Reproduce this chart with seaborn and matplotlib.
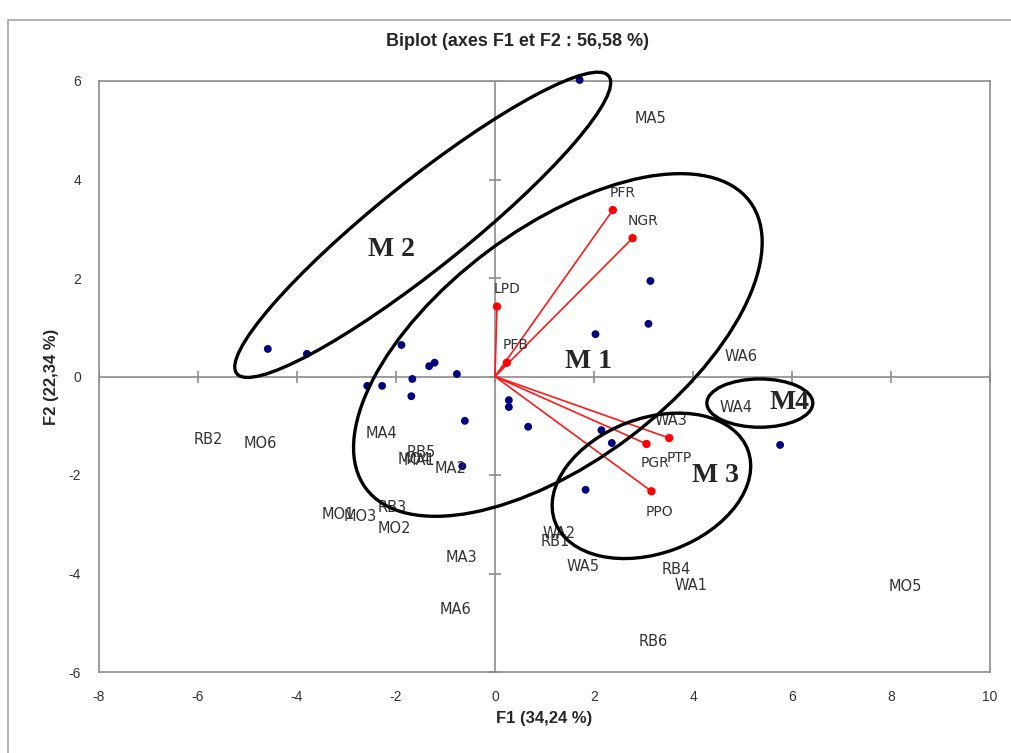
import matplotlib
matplotlib.use("Agg")
import matplotlib.pyplot as plt
from matplotlib.patches import Ellipse, Rectangle
import numpy as np
import pandas as pd
import seaborn as sns

# observation points (blue)
pt_x = [1.71, -4.59, -3.80, -1.89, -1.33, -1.22, -0.77, -1.67, -2.58, -2.28, -1.69,
        -0.61, -0.66, 3.14, 3.10, 2.03, 0.28, 0.28, 0.67, 2.15, 2.36, 1.83, 5.76]
pt_y = [6.02, 0.56, 0.46, 0.64, 0.21, 0.28, 0.05, -0.05, -0.19, -0.19, -0.40,
        -0.90, -1.82, 1.94, 1.07, 0.86, -0.48, -0.62, -1.02, -1.09, -1.35, -2.30, -1.39]

# observation labels
obs_names = ["MA5", "WA6", "WA4", "WA3", "RB2", "MO6", "MA4", "RB5", "MO4", "MA1",
             "MA2", "RB3", "MO1", "MO3", "MO2", "MA3", "MA6", "WA2", "RB1", "WA5",
             "RB4", "WA1", "RB6", "MO5"]
obs_x = [3.14, 4.97, 4.87, 3.56, -5.80, -4.75, -2.30, -1.50, -1.64, -1.52,
         -0.89, -2.08, -3.17, -2.73, -2.04, -0.68, -0.79, 1.29, 1.21, 1.77,
         3.66, 3.97, 3.20, 8.29]
obs_y = [5.23, 0.40, -0.62, -0.90, -1.27, -1.37, -1.15, -1.54, -1.68, -1.70,
         -1.86, -2.67, -2.81, -2.85, -3.08, -3.67, -4.74, -3.18, -3.36, -3.85,
         -3.91, -4.25, -5.39, -4.27]

# variables (red vectors)
var_names = ["LPD", "PFB", "PFR", "NGR", "PTP", "PGR", "PPO"]
var_x = [0.04, 0.24, 2.38, 2.78, 3.52, 3.06, 3.16]
var_y = [1.42, 0.28, 3.38, 2.81, -1.25, -1.37, -2.33]
var_lx = [0.25, 0.42, 2.58, 2.98, 3.72, 3.24, 3.32]
var_ly = [1.78, 0.64, 3.73, 3.16, -1.65, -1.76, -2.75]

# groups (ellipses): centre, semi axes, angle
grp_names = ["M 1", "M 2", "M 3", "M4"]
grp_cx = [1.27, -1.46, 3.16, 5.35]
grp_cy = [0.64, 3.08, -2.22, -0.54]
grp_a = [4.85, 4.82, 2.08, 1.07]
grp_b = [2.37, 0.89, 1.37, 0.49]
grp_ang = [37, 38.8, 20.6, 0]
grp_lx = [1.88, -2.09, 4.45, 5.94]
grp_ly = [0.30, 2.57, -2.02, -0.52]

xticks = [-8, -6, -4, -2, 0, 2, 4, 6, 8, 10]
yticks = [-6, -4, -2, 0, 2, 4, 6]

sns.set_style("white")
plt.rcParams['font.family'] = ['DejaVu Sans']

fig = plt.figure(figsize=(10.11, 7.53), dpi=100)
ax = fig.add_axes([99/1011, 1-672/753, (990-99)/1011, (672-81)/753])

gray = "#8c8c8c"
ax.axhline(0, color=gray, lw=1.2, zorder=1)
ax.axvline(0, color=gray, lw=1.2, zorder=1)
ax.plot(xticks, [0]*len(xticks), ls="", marker="|", ms=9, mew=1.2, color=gray, zorder=1)
ax.plot([0]*len(yticks), yticks, ls="", marker="_", ms=9, mew=1.2, color=gray, zorder=1)

pts = pd.DataFrame({"x": pt_x, "y": pt_y})
sns.scatterplot(data=pts, x="x", y="y", color="#000080", s=32, edgecolor="none",
                ax=ax, zorder=3, clip_on=False)

for vx, vy in zip(var_x, var_y):
    ax.plot([0, vx], [0, vy], color="#ff1a1a", lw=1.2, zorder=2)
vars_df = pd.DataFrame({"x": var_x, "y": var_y})
sns.scatterplot(data=vars_df, x="x", y="y", color="#ff0000", s=36, edgecolor="none", ax=ax, zorder=3)
for n, lx, ly in zip(var_names, var_lx, var_ly):
    ax.text(lx, ly, n, ha="center", va="center", fontsize=10, color="#333333")

for n, lx, ly in zip(obs_names, obs_x, obs_y):
    ax.text(lx, ly, n, ha="center", va="center", fontsize=10.5, color="#333333")

for cx, cy, a, b, ang in zip(grp_cx, grp_cy, grp_a, grp_b, grp_ang):
    ax.add_patch(Ellipse((cx, cy), 2*a, 2*b, angle=ang, fill=False,
                         ec="black", lw=2.4, zorder=4, clip_on=False))
for n, lx, ly in zip(grp_names, grp_lx, grp_ly):
    ax.text(lx, ly, n, ha="center", va="center", fontsize=20, fontweight="bold",
            family=["Liberation Serif", "DejaVu Serif"], zorder=5)

ax.set_xlim(-8, 10)
ax.set_ylim(-6, 6)
ax.set_xticks(xticks)
ax.set_yticks(yticks)
tick_font = ["Liberation Sans", "DejaVu Sans"]
ax.set_xticklabels([str(t) for t in xticks], family=tick_font, fontsize=10)
ax.set_yticklabels([str(t) for t in yticks], family=tick_font, fontsize=10)
ax.tick_params(length=0, pad=13, colors="#333333")
for s in ax.spines.values():
    s.set_color(gray)
    s.set_linewidth(1.2)
ax.set_xlabel("F1 (34,24 %)", fontsize=12, fontweight="bold", family=tick_font, labelpad=5)
ax.set_ylabel("F2 (22,34 %)", fontsize=12, fontweight="bold", family=tick_font, labelpad=7)

fig.text(517/1011, 1-42/753, "Biplot (axes F1 et F2 : 56,58 %)", ha="center", va="center",
         fontsize=13, fontweight="bold", family=tick_font)

fig.patches.append(Rectangle((8/1011, -0.05), 1.2, 1-20/753+0.05, transform=fig.transFigure,
                             fill=False, ec="#a6a6a6", lw=1.2))

fig.savefig("out.png", dpi=100)
